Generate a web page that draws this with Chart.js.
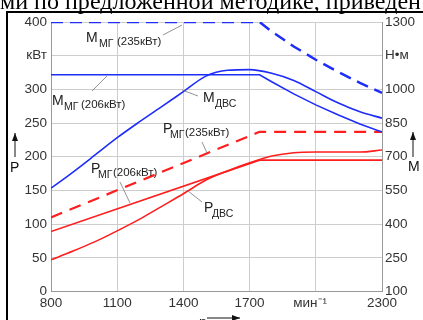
<!DOCTYPE html>
<html>
<head>
<meta charset="utf-8">
<script src="https://cdn.jsdelivr.net/npm/chart.js@4.4.1/dist/chart.umd.min.js"></script>
<style>
    html, body { margin: 0; padding: 0; background: #fff; }
</style>
</head>
<body>
<canvas id="chart_motor" width="423" height="320"></canvas>
<script>
// Частота вращения коленвала, мин-1
var n_dvs = [800, 900, 1000, 1100, 1200, 1300, 1400, 1500, 1600, 1700, 1800, 1900, 2000, 2100, 2200, 2300];
// Момент и мощность ДВС
var m_dvs = [560, 632, 708, 785, 855, 922, 990, 1058, 1085, 1088, 1072, 1040, 990, 940, 900, 872];
var p_dvs = [47, 60, 74, 90, 107, 126, 145, 165, 179, 191, 201, 206, 207, 207, 207, 210];

// Мотор-генератор (235 кВт и 206 кВт)
var n_mg = [800, 1745, 1800, 1900, 2000, 2100, 2200, 2300];
var m_mg235 = [1300, 1300, 1258, 1191, 1132, 1078, 1029, 984];
var p_mg235 = [110, 237, 237, 237, 237, 237, 237, 237];
var m_mg206 = [1065, 1065, 1034, 980, 931, 887, 846, 810];
var p_mg206 = [89, 195, 195, 195, 195, 195, 195, 195];

// Деления осей
var ticks_n = [800, 1100, 1400, 1700, 2000, 2300];
var ticks_p = [0, 50, 100, 150, 200, 250, 300, 350, 400];
var ticks_m = [100, 250, 400, 550, 700, 850, 1000, 1150, 1300];
var unidades = { 2000: 'мин⁻¹   ', 350: 'кВт', 1150: 'Н•м' };

function puntos(xs, ys) {
    return xs.map(function (x, i) { return { x: x, y: ys[i] }; });
}

function fijarTicks(lista) {
    return function (scale) {
        scale.ticks = lista.map(function (v) { return { value: v }; });
    };
}

function etiqueta(v) {
    return unidades[v] !== undefined ? unidades[v] : String(v);
}

var AZUL = 'rgb(30,45,250)';
var ROJO = 'rgb(255,30,30)';
var FUENTE = '"Liberation Sans", Arial, sans-serif';

// Подписи кривых со сносками
function rotulo(ctx, t) {
    ctx.fillStyle = '#222';
    ctx.font = '14px ' + FUENTE;
    ctx.fillText(t.main, t.x, t.y);
    ctx.font = '10.5px ' + FUENTE;
    ctx.fillText(t.sub, t.sx, t.y + 5);
    if (t.tail) {
        ctx.font = '11.5px ' + FUENTE;
        ctx.fillText(t.tail, t.tx, t.y + 3);
    }
    ctx.strokeStyle = '#777';
    ctx.lineWidth = 0.8;
    ctx.beginPath();
    ctx.moveTo(t.l[0], t.l[1]);
    ctx.lineTo(t.l[2], t.l[3]);
    ctx.stroke();
}

function flecha(ctx, x1, y1, x2, y2) {
    ctx.strokeStyle = '#111';
    ctx.fillStyle = '#111';
    ctx.lineWidth = 1;
    ctx.beginPath();
    ctx.moveTo(x1, y1);
    ctx.lineTo(x2, y2);
    ctx.stroke();
    var a = Math.atan2(y2 - y1, x2 - x1);
    ctx.beginPath();
    ctx.moveTo(x2, y2);
    ctx.lineTo(x2 - 8 * Math.cos(a) + 3 * Math.sin(a), y2 - 8 * Math.sin(a) - 3 * Math.cos(a));
    ctx.lineTo(x2 - 8 * Math.cos(a) - 3 * Math.sin(a), y2 - 8 * Math.sin(a) + 3 * Math.cos(a));
    ctx.closePath();
    ctx.fill();
}

var decor = {
    id: 'decor',
    afterDraw: function (chart) {
        var ctx = chart.ctx;
        ctx.save();

        // строка текста документа над рисунком
        ctx.fillStyle = '#000';
        ctx.textBaseline = 'alphabetic';
        var frase = 'ми по предложенной методике, приведен';
        ctx.font = '20px "Liberation Serif", "Times New Roman", serif';
        var k = 421 / ctx.measureText(frase).width;
        ctx.font = (20 * k).toFixed(2) + 'px "Liberation Serif", "Times New Roman", serif';
        ctx.fillText(frase, 0, 9);

        // рамка
        ctx.strokeStyle = '#000';
        ctx.lineWidth = 2;
        ctx.beginPath();
        ctx.moveTo(7, 320);
        ctx.lineTo(7, 12);
        ctx.lineTo(423, 12);
        ctx.stroke();

        var rotulos = [
            { main: 'M', x: 86, y: 42, sub: 'МГ', sx: 99, tail: '(235кВт)', tx: 117, l: [163, 35, 182, 25] },
            { main: 'M', x: 52, y: 105, sub: 'МГ', sx: 64, tail: '(206кВт)', tx: 81, l: [92, 91, 107, 76] },
            { main: 'M', x: 203, y: 102, sub: 'ДВС', sx: 215, l: [198, 96, 182, 90] },
            { main: 'P', x: 163, y: 133, sub: 'МГ', sx: 170, tail: '(235кВт)', tx: 185, l: [202, 142, 207, 153] },
            { main: 'P', x: 91, y: 173, sub: 'МГ', sx: 98, tail: '(206кВт)', tx: 113, l: [120, 182, 130, 203] },
            { main: 'P', x: 204, y: 212, sub: 'ДВС', sx: 212, l: [202, 202, 188, 191] }
        ];
        rotulos.forEach(function (t) { rotulo(ctx, t); });

        // стрелки осей
        ctx.font = '14px ' + FUENTE;
        ctx.fillStyle = '#222';
        flecha(ctx, 15, 157, 15, 133);
        ctx.fillText('P', 10, 172);
        flecha(ctx, 413, 157, 413, 132);
        ctx.fillText('M', 408, 171);
        flecha(ctx, 207, 318, 240, 318);
        ctx.fillStyle = '#222';
        ctx.fillText('n', 199, 327);

        ctx.restore();
    }
};

var config_motor = {
    type: 'line',
    data: {
        datasets: [
            { data: puntos(n_mg, m_mg235), yAxisID: 'yM', borderColor: AZUL, borderWidth: 2.5, borderDash: [12, 7] },
            { data: puntos(n_mg, m_mg206), yAxisID: 'yM', borderColor: AZUL, borderWidth: 1.6 },
            { data: puntos(n_dvs, m_dvs), yAxisID: 'yM', borderColor: AZUL, borderWidth: 1.6, cubicInterpolationMode: 'monotone' },
            { data: puntos(n_mg, p_mg235), yAxisID: 'yP', borderColor: ROJO, borderWidth: 2.2, borderDash: [12, 8] },
            { data: puntos(n_mg, p_mg206), yAxisID: 'yP', borderColor: ROJO, borderWidth: 1.6 },
            { data: puntos(n_dvs, p_dvs), yAxisID: 'yP', borderColor: ROJO, borderWidth: 1.6, cubicInterpolationMode: 'monotone' }
        ]
    },
    options: {
        responsive: false,
        animation: false,
        layout: { padding: { top: 22, left: 0, right: 0, bottom: 0 } },
        elements: { point: { radius: 0 }, line: { fill: false } },
        plugins: { legend: { display: false }, tooltip: { enabled: false } },
        scales: {
            x: {
                type: 'linear',
                min: 800,
                max: 2300,
                afterBuildTicks: fijarTicks(ticks_n),
                afterFit: function (s) { s.height = 28.5; },
                grid: { color: '#cdcdcd', drawTicks: false },
                border: { color: '#999' },
                ticks: { callback: etiqueta, padding: 4, color: '#333', font: { family: FUENTE, size: 13.5 }, maxRotation: 0 }
            },
            yP: {
                position: 'left',
                min: 0,
                max: 400,
                afterBuildTicks: fijarTicks(ticks_p),
                afterFit: function (s) { s.width = 51; },
                grid: { color: '#cdcdcd', drawTicks: false },
                border: { color: '#999' },
                ticks: { callback: etiqueta, padding: 4, color: '#333', font: { family: FUENTE, size: 13.5 } }
            },
            yM: {
                position: 'right',
                min: 100,
                max: 1300,
                afterBuildTicks: fijarTicks(ticks_m),
                afterFit: function (s) { s.width = 41; },
                grid: { display: false, drawTicks: false },
                border: { color: '#999' },
                ticks: { callback: etiqueta, padding: 3, color: '#333', font: { family: FUENTE, size: 13.5 } }
            }
        }
    },
    plugins: [decor]
};

var canvas_motor = document.getElementById('chart_motor');
var chart_motor = new Chart(canvas_motor, config_motor);
</script>
</body>
</html>
